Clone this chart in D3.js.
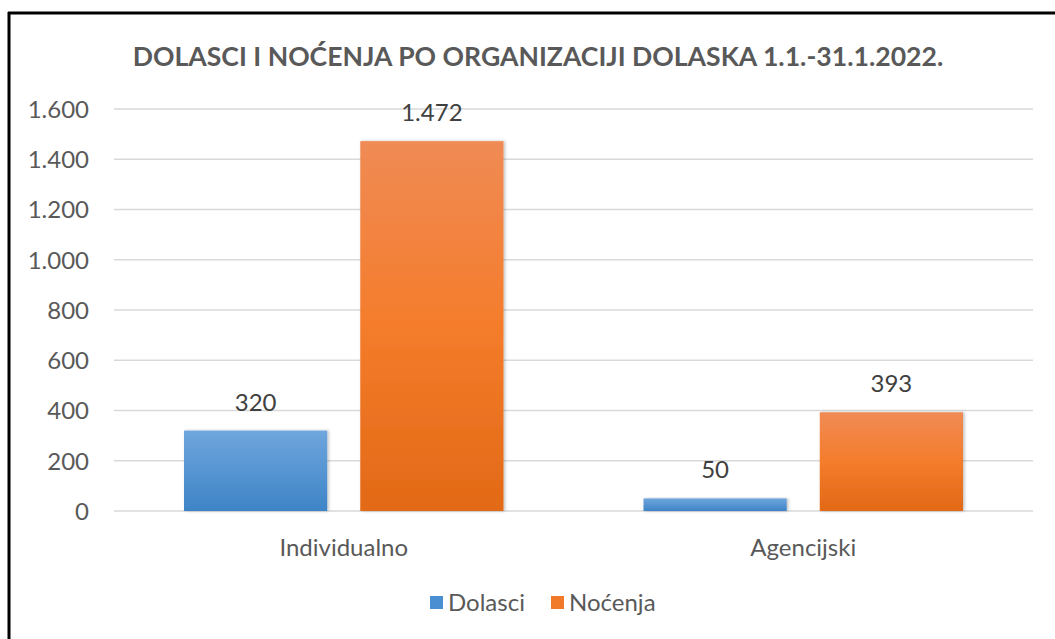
<!DOCTYPE html>
<html><head><meta charset="utf-8">
<script src="https://cdn.jsdelivr.net/npm/d3@7"></script>
<style>
html,body{margin:0;padding:0;background:#fff;}
svg{display:block;}
</style></head>
<body>
<script>
const categories = ["Individualno", "Agencijski"];
const seriesNames = ["Dolasci", "Noćenja"];
const dolasci = [320, 50];
const nocenja = [1472, 393];
const tickValues = [0, 200, 400, 600, 800, 1000, 1200, 1400, 1600];
const title = "DOLASCI I NOĆENJA PO ORGANIZACIJI DOLASKA 1.1.-31.1.2022.";

const W = 1055, H = 639;
const svg = d3.select("body").append("svg").attr("width", W).attr("height", H);
const font = "Lato, 'Open Sans', sans-serif";

// border (top & left only visible)
svg.append("line").attr("x1", 8).attr("x2", W).attr("y1", 13).attr("y2", 13).attr("stroke", "#000").attr("stroke-width", 3);
svg.append("line").attr("x1", 9).attr("x2", 9).attr("y1", 12).attr("y2", H).attr("stroke", "#000").attr("stroke-width", 3);

const defs = svg.append("defs");
const gb = defs.append("linearGradient").attr("id", "gBlue").attr("x1", 0).attr("x2", 0).attr("y1", 0).attr("y2", 1);
gb.append("stop").attr("offset", "0%").attr("stop-color", "#6fa6dd");
gb.append("stop").attr("offset", "100%").attr("stop-color", "#3e84c7");
const go = defs.append("linearGradient").attr("id", "gOrange").attr("x1", 0).attr("x2", 0).attr("y1", 0).attr("y2", 1);
go.append("stop").attr("offset", "0%").attr("stop-color", "#f08b55");
go.append("stop").attr("offset", "50%").attr("stop-color", "#f47c2b");
go.append("stop").attr("offset", "100%").attr("stop-color", "#e26916");
const flt = defs.append("filter").attr("id", "sh").attr("x", "-10%").attr("y", "-10%").attr("width", "130%").attr("height", "130%");
flt.append("feDropShadow").attr("dx", 1.5).attr("dy", 0).attr("stdDeviation", 1.5).attr("flood-color", "#000").attr("flood-opacity", 0.25);

const fills = {"Dolasci": "url(#gBlue)", "Noćenja": "url(#gOrange)"};
const legendFills = {"Dolasci": "#4a8fd2", "Noćenja": "#f07a2a"};

const plot = {left: 114, right: 1033, top: 109, bottom: 511};
const y = d3.scaleLinear().domain([0, 1600]).range([plot.bottom, plot.top]);
const x0 = d3.scaleBand().domain(categories).range([plot.left, plot.right]).padding(0);
const x1 = d3.scaleBand().domain(seriesNames).range([70, x0.bandwidth() - 70]).paddingInner(0.1875).paddingOuter(0);

// title
svg.append("text").attr("x", 538).attr("y", 66).attr("text-anchor", "middle")
  .attr("font-family", font).attr("font-weight", "bold").attr("font-size", 26.6)
  .attr("fill", "#595959").text(title);

// gridlines
svg.append("g").selectAll("line").data(tickValues).join("line")
  .attr("x1", plot.left).attr("x2", plot.right)
  .attr("y1", d => y(d)).attr("y2", d => y(d))
  .attr("stroke", "#d9d9d9").attr("stroke-width", 1.5);

// y axis labels
const yAxis = d3.axisLeft(y).tickValues(tickValues).tickSize(0).tickPadding(0)
  .tickFormat(d => d3.format(",")(d).replace(/,/g, "."));
const ga = svg.append("g").attr("transform", `translate(89,0)`).call(yAxis);
ga.select(".domain").remove();
ga.selectAll("text").attr("font-family", font).attr("font-size", 24).attr("fill", "#595959").attr("dy", "0.35em");

// bars
const rows = categories.map((c, i) => ({cat: c, vals: [{s: "Dolasci", v: dolasci[i]}, {s: "Noćenja", v: nocenja[i]}]}));
const groups = svg.append("g").selectAll("g").data(rows).join("g")
  .attr("transform", d => `translate(${x0(d.cat)},0)`);
groups.selectAll("rect").data(d => d.vals).join("rect")
  .attr("x", d => x1(d.s)).attr("width", x1.bandwidth())
  .attr("y", d => y(d.v)).attr("height", d => y(0) - y(d.v))
  .attr("fill", d => fills[d.s]).attr("filter", "url(#sh)");
groups.selectAll("text").data(d => d.vals).join("text")
  .attr("x", d => x1(d.s) + x1.bandwidth() / 2).attr("y", d => y(d.v) - 20)
  .attr("text-anchor", "middle").attr("font-family", font).attr("font-size", 24).attr("fill", "#404040")
  .text(d => d3.format(",")(d.v).replace(/,/g, "."));

// x axis labels
const xAxis = d3.axisBottom(x0).tickSize(0).tickPadding(0);
const gx = svg.append("g").attr("transform", `translate(0,548)`).call(xAxis);
gx.select(".domain").remove();
gx.selectAll("text").attr("font-family", font).attr("font-size", 24).attr("fill", "#595959").attr("dy", "0.35em");

// legend
const legendItems = [{s: "Dolasci", x: 430}, {s: "Noćenja", x: 551}];
const lg = svg.append("g").selectAll("g").data(legendItems).join("g")
  .attr("transform", d => `translate(${d.x},596)`);
lg.append("rect").attr("width", 13).attr("height", 13).attr("fill", d => legendFills[d.s]);
lg.append("text").attr("x", 18).attr("y", 7).attr("dy", "0.35em")
  .attr("font-family", font).attr("font-size", 24).attr("fill", "#595959").text(d => d.s);
</script>
</body></html>
